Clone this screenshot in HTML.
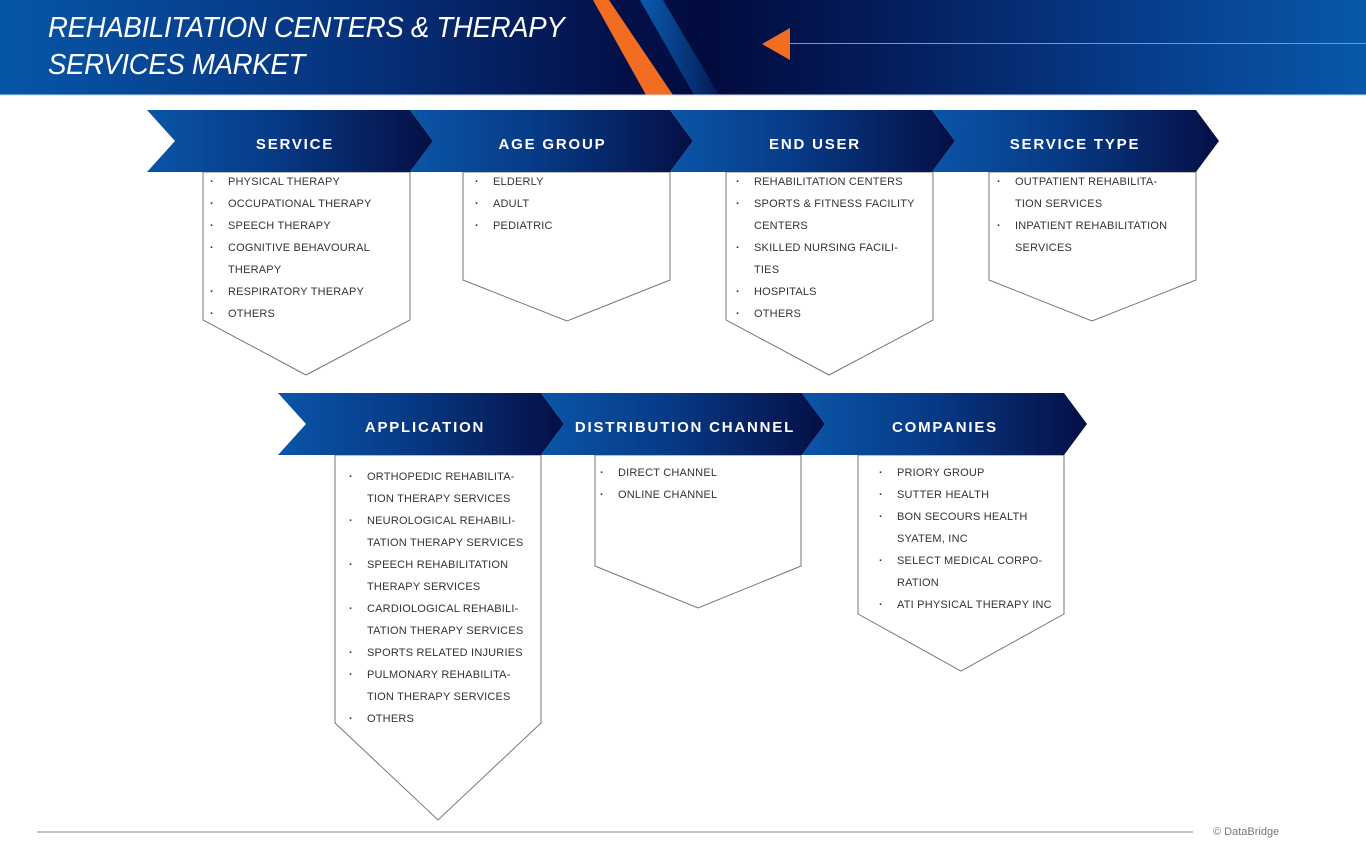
<!DOCTYPE html>
<html><head><meta charset="utf-8">
<style>
html,body{margin:0;padding:0;background:#fff;}
body{width:1366px;height:842px;position:relative;overflow:hidden;font-family:"Liberation Sans",sans-serif;}
.hdr{position:absolute;left:0;top:0;width:1366px;height:95px;background:linear-gradient(90deg,#0656a8 0%,#06347f 25%,#03114a 45%,#020b3e 52%,#041d5c 65%,#073f8e 85%,#0858aa 100%);}
.title{position:absolute;left:48px;top:10px;color:#fff;font-size:29px;font-style:italic;font-weight:normal;line-height:37px;letter-spacing:-0.3px;transform:scaleX(0.95);transform-origin:left top;}
.t{position:absolute;color:#fff;font-weight:bold;font-size:15px;letter-spacing:1.8px;text-align:center;}
ul{position:absolute;margin:0;padding:0;list-style:none;font-size:11px;color:#333;line-height:22px;letter-spacing:0.2px;}
li{position:relative;padding-left:18px;}
li.b:before{content:"·";position:absolute;left:0;font-weight:bold;}
.foot{position:absolute;left:1213px;top:826px;font-size:11px;color:#777;}
</style></head><body>
<div class="hdr"></div>
<svg width="1366" height="842" style="position:absolute;left:0;top:0">
<defs>
<linearGradient id="g" x1="0" x2="1" y1="0" y2="0">
<stop offset="0" stop-color="#0a55a8"/><stop offset="0.45" stop-color="#073a86"/><stop offset="1" stop-color="#050f45"/>
</linearGradient>
<linearGradient id="bs" x1="0" x2="1"><stop offset="0" stop-color="#0a5cb0"/><stop offset="1" stop-color="#041a55"/></linearGradient>
</defs>
<polygon points="640,0 663,0 719,95 694,95" fill="url(#bs)"/>
<polygon points="593,0 609,0 673,95 646,95" fill="#f26d21"/>
<polygon points="762,44 790,28 790,60" fill="#f26d21"/>
<line x1="790" y1="43.5" x2="1366" y2="43.5" stroke="#e8764a" stroke-width="1"/>
<line x1="0" y1="95" x2="1366" y2="95" stroke="#c8d4e6" stroke-width="1"/>
<g fill="#fff" stroke="#777" stroke-width="1">
<polygon points="203,172 410,172 410,320 306,375 203,320"/>
<polygon points="463,172 670,172 670,280 567,321 463,280"/>
<polygon points="726,172 933,172 933,320 829,375 726,320"/>
<polygon points="989,172 1196,172 1196,280 1092,321 989,280"/>
<polygon points="335,455 541,455 541,723 438,820 335,723"/>
<polygon points="595,455 801,455 801,566 698,608 595,566"/>
<polygon points="858,455 1064,455 1064,614 961,671 858,614"/>
</g>
<g fill="url(#g)">
<polygon points="147,110 410,110 433,141 410,172 147,172 175,141"/>
<polygon points="410,110 670,110 693,141 670,172 410,172 433,141"/>
<polygon points="670,110 932,110 955,141 932,172 670,172 693,141"/>
<polygon points="932,110 1196,110 1219,141 1196,172 932,172 955,141"/>
<polygon points="278,393 541,393 564,424 541,455 278,455 306,424"/>
<polygon points="541,393 802,393 825,424 802,455 541,455 564,424"/>
<polygon points="802,393 1064,393 1087,424 1064,455 802,455 825,424"/>
</g>
<line x1="37" y1="832" x2="1193" y2="832" stroke="#888" stroke-width="1"/>
</svg>
<div class="title">REHABILITATION CENTERS &amp; THERAPY<br>SERVICES MARKET</div>
<div class="t" style="left:190px;width:210px;top:136px">SERVICE</div>
<div class="t" style="left:450px;width:205px;top:136px">AGE GROUP</div>
<div class="t" style="left:710px;width:210px;top:136px">END USER</div>
<div class="t" style="left:970px;width:210px;top:136px">SERVICE TYPE</div>
<div class="t" style="left:320px;width:210px;top:419px">APPLICATION</div>
<div class="t" style="left:565px;width:240px;top:419px">DISTRIBUTION CHANNEL</div>
<div class="t" style="left:840px;width:210px;top:419px">COMPANIES</div>
<ul style="left:210px;top:171px;width:195px"><li class="b">PHYSICAL THERAPY</li><li class="b">OCCUPATIONAL THERAPY</li><li class="b">SPEECH THERAPY</li><li class="b">COGNITIVE BEHAVOURAL</li><li>THERAPY</li><li class="b">RESPIRATORY THERAPY</li><li class="b">OTHERS</li></ul>
<ul style="left:475px;top:171px;width:190px"><li class="b">ELDERLY</li><li class="b">ADULT</li><li class="b">PEDIATRIC</li></ul>
<ul style="left:736px;top:171px;width:195px"><li class="b">REHABILITATION CENTERS</li><li class="b">SPORTS &amp; FITNESS FACILITY</li><li>CENTERS</li><li class="b">SKILLED NURSING FACILI-</li><li>TIES</li><li class="b">HOSPITALS</li><li class="b">OTHERS</li></ul>
<ul style="left:997px;top:171px;width:195px"><li class="b">OUTPATIENT REHABILITA-</li><li>TION SERVICES</li><li class="b">INPATIENT REHABILITATION</li><li>SERVICES</li></ul>
<ul style="left:349px;top:466px;width:190px"><li class="b">ORTHOPEDIC REHABILITA-</li><li>TION THERAPY SERVICES</li><li class="b">NEUROLOGICAL REHABILI-</li><li>TATION THERAPY SERVICES</li><li class="b">SPEECH REHABILITATION</li><li>THERAPY SERVICES</li><li class="b">CARDIOLOGICAL REHABILI-</li><li>TATION THERAPY SERVICES</li><li class="b">SPORTS RELATED INJURIES</li><li class="b">PULMONARY REHABILITA-</li><li>TION THERAPY SERVICES</li><li class="b">OTHERS</li></ul>
<ul style="left:600px;top:462px;width:195px"><li class="b">DIRECT CHANNEL</li><li class="b">ONLINE CHANNEL</li></ul>
<ul style="left:879px;top:462px;width:185px"><li class="b">PRIORY GROUP</li><li class="b">SUTTER HEALTH</li><li class="b">BON SECOURS HEALTH</li><li>SYATEM, INC</li><li class="b">SELECT MEDICAL CORPO-</li><li>RATION</li><li class="b">ATI PHYSICAL THERAPY INC</li></ul>
<div class="foot">© DataBridge</div>
</body></html>
